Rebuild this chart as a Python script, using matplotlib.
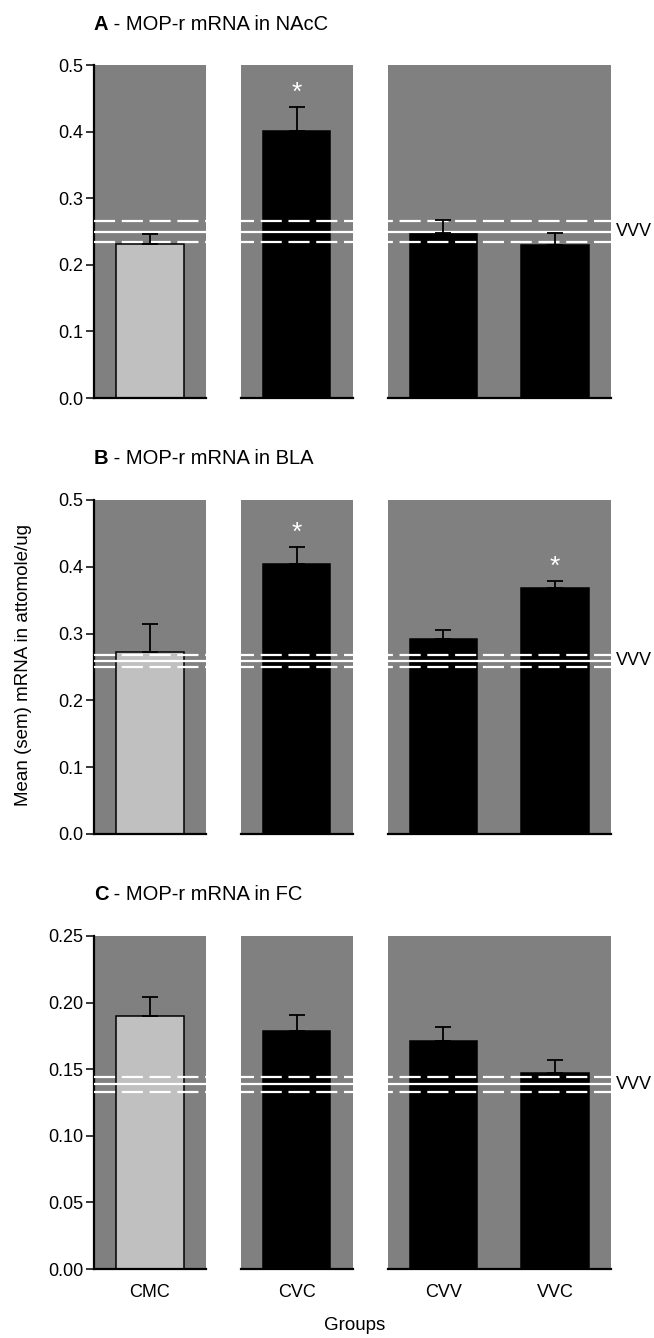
import matplotlib
matplotlib.use("Agg")
import matplotlib.pyplot as plt
import numpy as np

plt.rcParams["font.family"] = ["Liberation Sans", "DejaVu Sans"]

# data
groups = ["CMC", "CVC", "CVV", "VVC"]
group_sets = [["CMC"], ["CVC"], ["CVV", "VVC"]]

nacc_mean = [0.231, 0.401, 0.247, 0.229]
nacc_sem = [0.015, 0.036, 0.021, 0.018]
bla_mean = [0.273, 0.404, 0.292, 0.369]
bla_sem = [0.041, 0.026, 0.014, 0.010]
fc_mean = [0.190, 0.179, 0.171, 0.147]
fc_sem = [0.0145, 0.012, 0.0107, 0.0096]

vvv_mean = [0.250, 0.259, 0.1387]
vvv_sem = [0.0155, 0.0095, 0.0058]

stars = [["CVC"], ["CVC", "VVC"], []]
panel_letters = ["A", "B", "C"]
panel_titles = [" - MOP-r mRNA in NAcC", " - MOP-r mRNA in BLA", " - MOP-r mRNA in FC"]
ylims = [0.5, 0.5, 0.25]
ysteps = [0.1, 0.1, 0.05]
yfmts = ["{:.1f}", "{:.1f}", "{:.2f}"]

BG = "#808080"
W, H = 654, 1338
FS = 13


def layout(bar_w=1.0, pad=0.33, gap=0.52):
    """x centers of bars and the spans of the grey boxes."""
    centers, spans = [], []
    left = -0.5 - pad
    for gs in group_sets:
        x0 = left
        x = left + pad + bar_w / 2
        for _ in gs:
            centers.append(x)
            x += bar_w + 2 * pad
        x1 = x - bar_w / 2 - pad
        spans.append((x0, x1))
        left = x1 + gap
    return np.array(centers), spans


def main() -> None:
    centers, spans = layout()
    means = [nacc_mean, bla_mean, fc_mean]
    sems = [nacc_sem, bla_sem, fc_sem]
    # axes boxes in pixels: top, bottom
    boxes = [(65, 398), (500, 834), (936, 1269)]
    left_px, right_px = 94, 611

    fig = plt.figure(figsize=(W / 100, H / 100), dpi=100)

    for i in range(3):
        top, bot = boxes[i]
        ax = fig.add_axes([left_px / W, 1 - bot / H, (right_px - left_px) / W, (bot - top) / H])
        ax.set_xlim(spans[0][0], spans[-1][1])
        ax.set_ylim(0, ylims[i])

        for x0, x1 in spans:
            ax.axvspan(x0, x1, color=BG, zorder=0, lw=0)
            ax.plot([x0, x1], [0, 0], color="black", lw=1.6, zorder=5, clip_on=False)

        colors = ["#c0c0c0" if g == "CMC" else "black" for g in groups]
        ax.bar(centers, means[i], width=1.0, color=colors, edgecolor="black", linewidth=1.1, zorder=2)

        m, s = vvv_mean[i], vvv_sem[i]
        ax.axhline(m, color="white", lw=1.6, zorder=3)
        for yy in (m - s, m + s):
            ax.axhline(yy, color="white", lw=1.6, ls=(0, (9.5, 3)), zorder=3)
        ax.text(1.01, m, "VVV", transform=ax.get_yaxis_transform(), ha="left", va="center",
                fontsize=FS, clip_on=False)

        ax.errorbar(centers, means[i], yerr=[np.zeros(len(groups)), sems[i]], fmt="none",
                    ecolor="black", elinewidth=1.3, capsize=6, capthick=1.3, zorder=4)

        for g in stars[i]:
            k = groups.index(g)
            ax.annotate("*", xy=(centers[k], means[i][k] + sems[i][k]), xytext=(0, 5),
                        textcoords="offset points", ha="center", va="baseline",
                        color="white", fontsize=19)

        for sp in ("top", "right", "bottom"):
            ax.spines[sp].set_visible(False)
        ax.spines["left"].set_linewidth(1.6)

        yt = np.arange(0, ylims[i] + 1e-9, ysteps[i])
        ax.set_yticks(yt)
        ax.set_yticklabels([yfmts[i].format(v) for v in yt], fontsize=FS)
        ax.tick_params(axis="y", direction="out", length=6, width=1.1, pad=1.5)

        ax.set_xticks(centers)
        if i == 2:
            ax.set_xticklabels(groups, fontsize=FS)
        else:
            ax.set_xticklabels([])
        ax.tick_params(axis="x", length=0, pad=11)

        t1 = ax.text(0, 1 + 41 / (bot - top), panel_letters[i], transform=ax.transAxes,
                     fontsize=14.5, weight="bold", ha="left", va="center")
        ax.annotate(panel_titles[i], xy=(1, 0), xycoords=t1, ha="left", va="bottom",
                    fontsize=14.5, annotation_clip=False)

    fig.text(24 / W, 1 - 665 / H, "Mean (sem) mRNA in attomole/ug", rotation=90,
             ha="center", va="center", fontsize=13.5)
    fig.text(355 / W, 1 - 1326 / H, "Groups", ha="center", va="center", fontsize=13.5)

    fig.savefig("out.png", dpi=100)


if __name__ == "__main__":
    main()
